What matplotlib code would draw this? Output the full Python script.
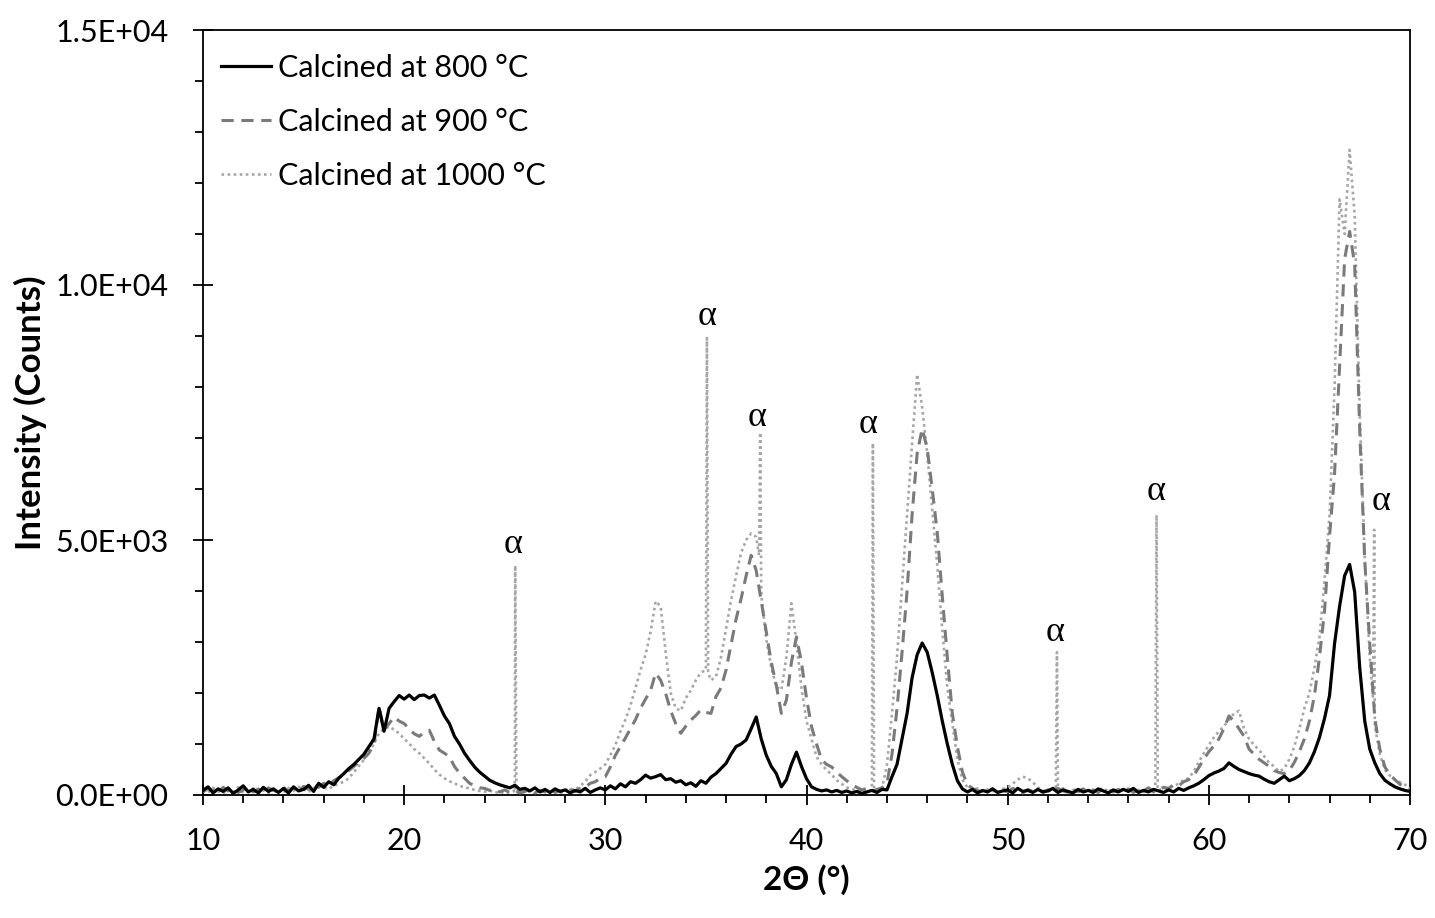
import numpy as np
import matplotlib
matplotlib.use('Agg')
import matplotlib.pyplot as plt
from matplotlib.ticker import MultipleLocator, FuncFormatter

plt.rcParams['font.family'] = ['Lato', 'DejaVu Sans']

## XRD data, 2theta sampled every 0.25 deg from 10 to 70
two_theta = np.arange(10, 70.001, 0.25)

int_800 = [90, 160, 40, 120, 70, 140, 30, 100,
           180, 60, 110, 40, 150, 70, 120, 50,
           130, 40, 160, 80, 110, 190, 70, 230,
           150, 260, 200, 330, 420, 520, 600, 700,
           800, 950, 1100, 1700, 1250, 1700, 1830, 1950,
           1880, 1960, 1870, 1950, 1960, 1900, 1960, 1760,
           1550, 1400, 1150, 1000, 820, 680, 550, 450,
           370, 290, 240, 200, 170, 140, 190, 110,
           130, 80, 140, 60, 110, 50, 120, 70,
           100, 40, 90, 60, 130, 50, 100, 140,
           100, 180, 120, 220, 160, 260, 230, 300,
           390, 330, 360, 400, 300, 320, 250, 280,
           200, 240, 170, 280, 230, 350, 420, 520,
           620, 800, 950, 1000, 1080, 1300, 1530, 1100,
           780, 560, 420, 160, 300, 600, 840, 560,
           320, 160, 110, 80, 100, 60, 90, 50,
           80, 40, 70, 30, 60, 90, 50, 110,
           100, 360, 600, 1100, 1600, 2300, 2750, 2980,
           2800, 2400, 1950, 1450, 1000, 600, 280, 120,
           60, 110, 40, 90, 60, 120, 50, 80,
           100, 40, 130, 70, 90, 50, 110, 60,
           80, 130, 50, 100, 70, 40, 110, 60,
           90, 50, 120, 80, 40, 100, 60, 110,
           70, 130, 50, 90, 60, 110, 80, 50,
           100, 60, 130, 90, 140, 180, 230, 300,
           380, 430, 470, 520, 630, 560, 500, 460,
           420, 390, 370, 310, 260, 230, 300, 370,
           280, 320, 380, 480, 630, 850, 1130, 1500,
           1950, 2970, 3700, 4300, 4520, 3980, 2500, 1450,
           900, 630, 420, 290, 220, 160, 120, 90,
           70]

int_900 = [60, 130, 90, 40, 150, 80, 120, 50,
           100, 170, 60, 120, 40, 140, 90, 60,
           150, 80, 130, 60, 170, 110, 200, 150,
           230, 190, 280, 340, 400, 480, 560, 650,
           720, 820, 1000, 1730, 1280, 1400, 1530, 1450,
           1400, 1300, 1200, 1150, 1230, 1270, 1050, 880,
           820, 750, 560, 430, 330, 230, 180, 140,
           130, 90, 120, 60, 100, 50, 80, 40,
           70, 110, 40, 90, 60, 120, 50, 80,
           40, 100, 70, 130, 150, 230, 260, 330,
           360, 550, 780, 950, 1120, 1300, 1480, 1700,
           1880, 2050, 2390, 2250, 1990, 1650, 1400, 1210,
           1350, 1470, 1560, 1670, 1620, 1600, 1930, 2100,
           2450, 2950, 3450, 3850, 4300, 4700, 4400, 3800,
           3200, 2600, 2150, 1600, 1860, 2600, 3100, 2600,
           1900, 1340, 1000, 690, 600, 550, 450, 360,
           280, 200, 150, 100, 130, 70, 110, 140,
           230, 800, 1700, 2800, 4000, 5500, 6700, 7180,
           6800, 6000, 5150, 3900, 2700, 1600, 950, 450,
           200, 130, 80, 110, 60, 120, 50, 90,
           60, 130, 80, 40, 110, 70, 120, 50,
           100, 60, 130, 80, 50, 110, 70, 120,
           60, 100, 50, 130, 80, 60, 110, 70,
           120, 50, 100, 80, 140, 60, 110, 150,
           130, 200, 180, 260, 300, 380, 540, 700,
           850, 960, 1100, 1300, 1550, 1450, 1300, 1150,
           900, 800, 700, 630, 560, 480, 440, 420,
           480, 640, 850, 1100, 1450, 1950, 2700, 3600,
           5070, 6300, 8400, 10510, 11050, 10400, 7160, 4600,
           2970, 1500, 900, 550, 400, 300, 210, 160,
           130]

int_1000 = [110, 50, 140, 70, 30, 120, 60, 150,
            40, 100, 130, 60, 90, 30, 110, 70,
            50, 140, 80, 160, 110, 60, 130, 200,
            150, 120, 180, 220, 260, 330, 450, 570,
            690, 850, 1000, 1210, 1300, 1340, 1280, 1210,
            1100, 1010, 900, 820, 720, 620, 500, 400,
            330, 270, 230, 180, 150, 130, 100, 80,
            65, 90, 40, 70, 30, 60, 50, 90,
            40, 80, 30, 100, 60, 50, 110, 40,
            90, 130, 100, 180, 260, 390, 450, 520,
            600, 780, 980, 1250, 1480, 1760, 2100, 2450,
            2750, 3200, 3800, 3700, 2800, 2000, 1700, 1650,
            1900, 2050, 2250, 2400, 2500, 2250, 2320, 2700,
            3250, 3820, 4300, 4750, 5000, 5130, 5060, 4000,
            3050, 2500, 2120, 2060, 2700, 3760, 3000, 2100,
            1450, 1100, 750, 600, 490, 400, 290, 220,
            150, 120, 80, 100, 60, 110, 90, 120,
            600, 1600, 2700, 4100, 5500, 6900, 8250, 7600,
            6700, 5600, 4500, 3250, 2100, 1400, 700, 300,
            150, 90, 130, 60, 110, 80, 50, 120,
            150, 220, 300, 360, 330, 250, 150, 90,
            60, 110, 80, 130, 50, 100, 70, 40,
            110, 60, 90, 140, 70, 100, 50, 120,
            80, 130, 100, 60, 140, 110, 90, 130,
            125, 180, 220, 300, 330, 460, 650, 820,
            980, 1130, 1250, 1350, 1470, 1600, 1650, 1300,
            1100, 980, 880, 760, 630, 560, 460, 520,
            700, 950, 1300, 1700, 2000, 2500, 3100, 4200,
            5490, 8000, 11680, 11000, 12650, 11350, 7500, 4650,
            2700, 1400, 800, 500, 380, 300, 250, 200,
            170]

# sharp alpha-phase reflections of the 1000 C sample
spike_x = [25.46, 25.52, 25.58, 34.99, 35.05, 35.11, 37.64, 37.70, 37.76,
           43.24, 43.30, 43.36, 52.39, 52.45, 52.51, 57.34, 57.40, 57.46,
           68.16, 68.22, 68.28]
spike_y = [80, 4500, 90, 2450, 8960, 2400, 4700, 7110, 3900,
           100, 6900, 90, 70, 2800, 90, 110, 5490, 100,
           1900, 5200, 1300]

# alpha labels (baseline positions)
label_x = [25.42, 35.07, 37.55, 43.05, 52.35, 57.40, 68.55]
label_y = [4740, 9210, 7230, 7095, 3025, 5790, 5585]

x_1000 = np.concatenate([two_theta, spike_x])
y_1000 = np.concatenate([int_1000, spike_y])
order = np.argsort(x_1000, kind='stable')
x_1000 = x_1000[order]
y_1000 = y_1000[order]

fig = plt.figure(figsize=(14.35, 9.18), dpi=100)
ax = fig.add_axes([203/1435, 1-795/918, (1410-203)/1435, (795-30)/918])

ax.plot(two_theta, int_800, color='black', lw=2.3, label='Calcined at 800 °C', zorder=4)
ax.plot(two_theta, int_900, color='#7a7a7a', lw=2.2, dashes=(4, 2.5),
        label='Calcined at 900 °C', zorder=3)
ax.plot(x_1000, y_1000, color='#a6a6a6', lw=1.9, dashes=(1, 1.3),
        label='Calcined at 1000 °C', zorder=2)

for lx, ly in zip(label_x, label_y):
    ax.text(lx, ly, 'α', ha='center', va='baseline', fontsize=26,
            family=['Liberation Serif', 'DejaVu Serif'])

ax.set_xlim(10, 70)
ax.set_ylim(0, 15000)
ax.xaxis.set_major_locator(MultipleLocator(10))
ax.xaxis.set_minor_locator(MultipleLocator(2))
ax.yaxis.set_major_locator(MultipleLocator(5000))
ax.yaxis.set_minor_locator(MultipleLocator(1000))
ax.yaxis.set_major_formatter(FuncFormatter(lambda v, p: '{:.1E}'.format(v)))
ax.tick_params(which='major', direction='inout', length=14, width=1.3, labelsize=22)
ax.tick_params(axis='x', which='major', pad=16)
ax.tick_params(axis='y', which='major', pad=18)
ax.tick_params(which='minor', direction='out', length=6, width=1.3)
for s in ax.spines.values():
    s.set_linewidth(1.3)

ax.set_xlabel('2Θ (°)', fontsize=24, fontweight='bold', va='center')
ax.set_ylabel('Intensity (Counts)', fontsize=25, fontweight='bold', va='center')
ax.xaxis.set_label_coords(0.5, (795-880)/765)
ax.yaxis.set_label_coords((30-203)/1207, 0.5)

ax.legend(loc='upper left', bbox_to_anchor=(18/1207, 1-24/765), frameon=False,
          fontsize=22, handlelength=1.65, handletextpad=0.2, labelspacing=0.85,
          borderaxespad=0, borderpad=0)

fig.savefig('out.png', dpi=100)
